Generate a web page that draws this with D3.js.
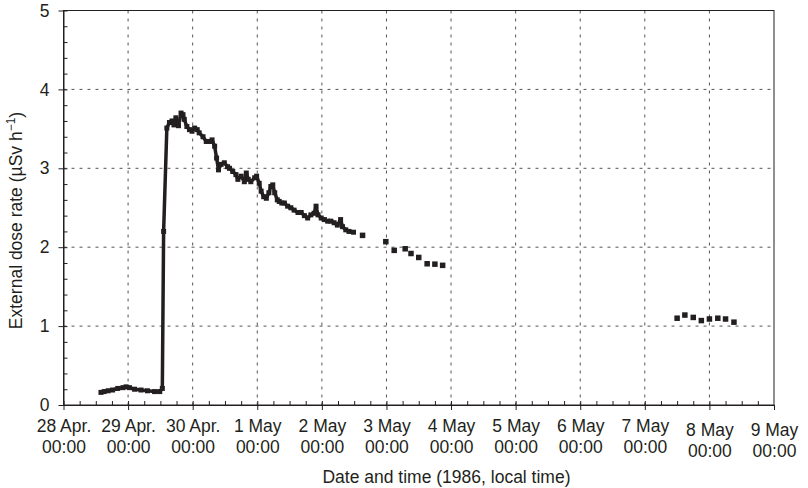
<!DOCTYPE html>
<html>
<head>
<meta charset="utf-8">
<script src="https://cdn.jsdelivr.net/npm/d3@7"></script>
<style>
  body { margin: 0; background: #fff; }
  text { font-family: "Liberation Sans", Arial, sans-serif; fill: #231f20; }
</style>
</head>
<body>
<div id="chart"></div>
<script>
// days since 28 Apr 1986 00:00 and dose rate (uSv/h)
var lineDays = [0.58,0.63,0.69,0.76,0.84,0.92,0.97,1.02,1.10,1.20,1.30,1.41,1.49,1.53,1.55,1.60,1.64,1.68,1.71,1.74,1.78,1.82,1.85,1.87,1.91,1.95,1.99,2.03,2.07,2.10,2.16,2.21,2.26,2.30,2.34,2.37,2.40,2.44,2.49,2.54,2.57,2.62,2.67,2.70,2.75,2.80,2.83,2.86,2.90,2.96,2.99,3.03,3.06,3.10,3.14,3.18,3.21,3.24,3.27,3.31,3.34,3.38,3.42,3.47,3.52,3.57,3.63,3.68,3.73,3.78,3.83,3.88,3.91,3.94,3.99,4.04,4.09,4.14,4.19,4.24,4.29,4.32,4.37,4.42,4.49];
var lineDose = [0.16,0.17,0.18,0.19,0.21,0.22,0.23,0.22,0.20,0.19,0.18,0.17,0.17,0.21,2.20,3.51,3.58,3.60,3.55,3.64,3.54,3.70,3.68,3.62,3.53,3.49,3.47,3.51,3.49,3.45,3.40,3.34,3.34,3.36,3.28,3.13,2.98,3.05,3.07,3.02,3.00,2.96,2.92,2.86,2.90,2.83,2.94,2.86,2.83,2.88,2.90,2.81,2.71,2.64,2.62,2.69,2.77,2.79,2.69,2.60,2.58,2.56,2.56,2.52,2.50,2.47,2.44,2.44,2.40,2.37,2.41,2.43,2.52,2.41,2.37,2.35,2.33,2.33,2.31,2.28,2.35,2.26,2.22,2.20,2.19];
var pointDays = [4.63,4.99,5.12,5.29,5.38,5.50,5.63,5.75,5.87,9.50,9.62,9.75,9.875,10.00,10.13,10.25,10.38];
var pointDose = [2.15,2.07,1.96,1.98,1.92,1.87,1.79,1.785,1.77,1.10,1.14,1.11,1.07,1.09,1.10,1.09,1.05];

var dayLabels = ["28 Apr.","29 Apr.","30 Apr.","1 May","2 May","3 May","4 May","5 May","6 May","7 May","8 May","9 May"];
var yTicks = [0,1,2,3,4,5];

var margin = {top: 10.5, right: 34, bottom: 83, left: 63.5},
    width = 808 - margin.left - margin.right,
    height = 488 - margin.top - margin.bottom;
var fs = 17.5;

var svg = d3.select("#chart")
  .append("svg")
    .attr("width", 808)
    .attr("height", 488)
  .append("g")
    .attr("transform", "translate(" + margin.left + "," + margin.top + ")");

var x = d3.scaleLinear().domain([0, 11]).range([0, width]);
var y = d3.scaleLinear().domain([0, 5]).range([height, 0]);

// dashed grid
svg.append("g")
  .selectAll("line")
  .data(d3.range(1, 11))
  .enter()
  .append("line")
    .attr("x1", function (d) { return x(d); })
    .attr("x2", function (d) { return x(d); })
    .attr("y1", 0)
    .attr("y2", height)
    .attr("stroke", "#555")
    .attr("stroke-dasharray", "3,5");

svg.append("g")
  .selectAll("line")
  .data([1, 2, 3, 4])
  .enter()
  .append("line")
    .attr("x1", 0)
    .attr("x2", width)
    .attr("y1", function (d) { return y(d); })
    .attr("y2", function (d) { return y(d); })
    .attr("stroke", "#555")
    .attr("stroke-dasharray", "3,5");

// minor ticks (6 h on x, 0.2 on y), pointing inwards
svg.append("g")
  .attr("transform", "translate(0," + height + ")")
  .call(d3.axisTop(x).tickValues(d3.range(0, 44).map(function (i) { return i / 4; })).tickSize(4).tickFormat(""))
  .call(function (g) { g.select(".domain").remove(); });

svg.append("g")
  .call(d3.axisRight(y).tickValues(d3.range(0, 26).map(function (i) { return i / 5; })).tickSize(4).tickFormat(""))
  .call(function (g) { g.select(".domain").remove(); });

// X axis
var xAxis = svg.append("g")
  .attr("transform", "translate(0," + height + ")")
  .call(d3.axisBottom(x).tickValues(d3.range(0, 12)).tickSize(5).tickSizeOuter(0).tickFormat(""));

xAxis.selectAll(".tick")
  .append("text")
    .attr("text-anchor", "middle")
    .attr("font-size", fs)
    .attr("fill", "#231f20")
    .attr("transform", function (d) { return d >= 10 ? "translate(0,4)" : null; })
    .each(function (d) {
      var t = d3.select(this);
      t.append("tspan").attr("x", 0).attr("y", 26.5).text(dayLabels[d]);
      t.append("tspan").attr("x", 0).attr("y", 48).text("00:00");
    });

// Y axis
svg.append("g")
  .call(d3.axisLeft(y).tickValues(yTicks).tickSize(5).tickSizeOuter(0).tickPadding(9).tickFormat(d3.format("d")))
  .selectAll("text")
    .attr("font-size", fs)
    .attr("fill", "#231f20");

svg.selectAll(".domain, .tick line").attr("stroke", "#231f20");

// frame
svg.append("rect")
  .attr("width", width)
  .attr("height", height)
  .attr("fill", "none")
  .attr("stroke", "#231f20");

// data
var lineData = lineDays.map(function (d, i) { return {t: d, v: lineDose[i]}; });
var pointData = pointDays.map(function (d, i) { return {t: d, v: pointDose[i]}; });

svg.append("path")
  .datum(lineData)
  .attr("fill", "none")
  .attr("stroke", "#231f20")
  .attr("stroke-width", 3.5)
  .attr("stroke-linejoin", "round")
  .attr("d", d3.line().x(function (d) { return x(d.t); }).y(function (d) { return y(d.v); }));

// the measured line is drawn with square markers too
svg.append("g")
  .selectAll("rect")
  .data(lineData)
  .enter()
  .append("rect")
    .attr("x", function (d) { return x(d.t) - 2.5; })
    .attr("y", function (d) { return y(d.v) - 2.5; })
    .attr("width", 5)
    .attr("height", 5)
    .attr("fill", "#231f20");

svg.append("g")
  .selectAll("rect")
  .data(pointData)
  .enter()
  .append("rect")
    .attr("x", function (d) { return x(d.t) - 2.75; })
    .attr("y", function (d) { return y(d.v) - 2.75; })
    .attr("width", 5.5)
    .attr("height", 5.5)
    .attr("fill", "#231f20");

// axis titles
svg.append("text")
  .attr("x", 383)
  .attr("y", 472)
  .attr("text-anchor", "middle")
  .attr("font-size", fs)
  .text("Date and time (1986, local time)");

var yt = svg.append("text")
  .attr("transform", "translate(-42," + 210 + ") rotate(-90)")
  .attr("text-anchor", "middle")
  .attr("font-size", fs);
yt.append("tspan").text("External dose rate (µSv h");
yt.append("tspan").attr("font-size", 12).attr("dy", -7).text("−1");
yt.append("tspan").attr("dy", 7).text(")");
</script>
</body>
</html>
